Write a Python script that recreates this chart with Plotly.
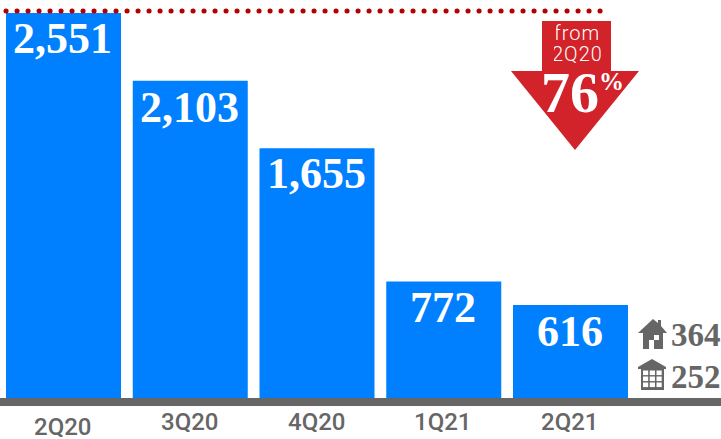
import plotly.graph_objects as go

categories = ["2Q20", "3Q20", "4Q20", "1Q21", "2Q21"]
values = [2551, 2103, 1655, 772, 616]
value_labels = ["2,551", "2,103", "1,655", "772", "616"]
label_offsets = [25, 27, 25, 26, 26]
tick_y = [427, 422, 422, 422, 422]
split_labels = ["364", "252"]

W, H = 721, 439
BLUE, RED, DOTS, GRAY = "#0080ff", "#d2232b", "#b30000", "#666666"
SERIF = "Liberation Serif"


def px(x):
    return x / W


def py(y):
    return 1 - y / H


def path(points):
    return "M" + "L".join(f"{px(x):.5f},{py(y):.5f}" for x, y in points) + "Z"


def poly(points, color):
    return dict(type="path", xref="paper", yref="paper", path=path(points),
                fillcolor=color, line=dict(width=0), layer="above")


def rect(x0, y0, x1, y1, color):
    return poly([(x0, y0), (x1, y0), (x1, y1), (x0, y1)], color)


fig = go.Figure(go.Bar(x=categories, y=values, width=115 / 126.75,
                       marker=dict(color=BLUE, line=dict(width=0)),
                       hoverinfo="skip"))

shapes = [
    rect(0, 398, W, 406, GRAY),
    dict(type="line", xref="paper", yref="paper", x0=px(6), x1=px(606), y0=py(11), y1=py(11),
         line=dict(color=DOTS, width=5, dash="0.1px,10.9px"), layer="above"),
    poly([(542, 21), (611, 21), (611, 71), (639, 71), (575, 150), (511, 71), (542, 71)], RED),
    # house
    poly([(653, 319), (658, 323), (658, 320), (661, 320), (661, 326), (667, 333), (663, 333),
          (663, 349), (654, 349), (654, 340), (649, 340), (649, 349), (643, 349), (643, 333),
          (638, 333)], GRAY),
    rect(654, 335, 659, 340, "white"),
    # building
    poly([(652, 359), (666, 367), (666, 369), (664, 369), (664, 390), (641, 390), (641, 369),
          (638, 369), (638, 367)], GRAY),
]
for wx in (643, 649.75, 656.5):
    for wy in (370.5, 376.5, 382.5):
        shapes.append(rect(wx, wy, wx + 5.2, wy + 4.6, "white"))

ann = []


def text(x, y, s, size, color, family, weight="normal", height=None):
    ann.append(dict(x=px(x), y=py(y), xref="paper", yref="paper", text=s, showarrow=False,
                    xanchor="center", yanchor="middle", height=height,
                    font=dict(size=size, color=color, family=family, weight=weight)))


for cat, val, lab, off, ty in zip(categories, values, value_labels, label_offsets, tick_y):
    ann.append(dict(x=cat, y=val, xref="x", yref="y", yshift=-off, xshift=-1, text=lab,
                    showarrow=False, xanchor="center", yanchor="middle",
                    font=dict(size=44, color="white", family=SERIF, weight="bold")))
    ann.append(dict(x=cat, y=py(ty), xref="x", yref="paper", text=cat, showarrow=False,
                    xanchor="center", yanchor="middle", height=20, xshift=-1,
                    font=dict(size=24, color=GRAY, family="Roboto", weight=500)))

text(577, 33, "from", 20, "white", "Roboto", 300, height=18)
text(577, 54, "2Q20", 20, "white", "Roboto", 300, height=18)
text(570, 92, "76", 58, "white", SERIF, "bold")
text(611, 81, "%", 25, "white", SERIF, "bold")
text(696, 335, split_labels[0], 33, GRAY, SERIF, "bold")
text(696, 377, split_labels[1], 33, GRAY, SERIF, "bold")

fig.update_layout(
    width=W, height=H, margin=dict(l=0, r=0, t=0, b=0, pad=0),
    autosize=False, paper_bgcolor="white", plot_bgcolor="white", showlegend=False,
    xaxis=dict(type="category", range=[-63.5 / 126.75, (W - 63.5) / 126.75],
               visible=False, fixedrange=True),
    yaxis=dict(range=[-41 / 0.1509, 398 / 0.1509], visible=False, fixedrange=True),
    shapes=shapes, annotations=ann,
)
post = """
document.documentElement.style.margin='0';
document.body.style.margin='0';
document.body.style.overflow='hidden';
document.querySelectorAll('.shapelayer path').forEach(function(p){
  if (p.style.strokeDasharray && p.style.strokeDasharray !== 'none') { p.style.strokeLinecap='round'; }
});
document.querySelectorAll('.annotation-text').forEach(function(t){
  if ((t.textContent==='from'||t.textContent==='2Q20') && t.style.fill.indexOf('255')>=0) { t.style.letterSpacing='1px'; }
});
"""
fig.write_html("out.html", config=dict(displayModeBar=False),
               default_width=W, default_height=H, post_script=post)
